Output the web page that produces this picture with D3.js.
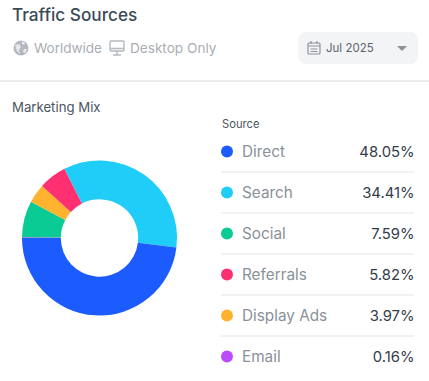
<!DOCTYPE html>
<html lang="en">
<head>
<meta charset="UTF-8">
<title>Traffic Sources</title>
<script src="https://d3js.org/d3.v7.min.js"></script>
<style>
  html, body { margin: 0; padding: 0; background: #fff; }
  svg { display: block; }
  text { font-family: Inter, "Noto Sans", sans-serif; }
</style>
</head>
<body>
<div class="canvas"></div>
<script>
  const sources = ['Direct', 'Search', 'Social', 'Referrals', 'Display Ads', 'Email']
  const shares = [48.05, 34.41, 7.59, 5.82, 3.97, 0.16]
  const colors = ['#1c5cff', '#1fcdf8', '#0acb94', '#ff3071', '#ffb22e', '#b94dfa']
  // clockwise from 9 o'clock, the way the donut is laid out
  const sliceOrder = ['Email', 'Social', 'Display Ads', 'Referrals', 'Search', 'Direct']

  const width = 429
  const height = 381

  const svg = d3.select('.canvas')
    .append('svg')
    .attr('width', width)
    .attr('height', height)

  const label = (x, y, str, size, fill, anchor = 'start', weight = 400) => svg.append('text')
    .attr('x', x)
    .attr('y', y)
    .attr('font-size', size)
    .attr('font-weight', weight)
    .attr('fill', fill)
    .attr('text-anchor', anchor)
    .text(str)

  // header
  label(12, 21, 'Traffic Sources', 17.2, '#3b4a57', 'start', 500)

  const globe = svg.append('g').attr('transform', 'translate(21, 48)')
  globe.append('circle').attr('r', 7.5).attr('fill', '#b4b9bf')
  globe.append('path').attr('d', 'M-6 -3 L-2 -4 L0 -1 L-2 2 L-1 6 L-4 3 Z M1 -7 L4 -5 L3 -3 L1 -4 Z M3 1 L6 1 L4 5 L2 4 Z').attr('fill', '#e6e8ea')
  label(34, 53, 'Worldwide', 13.5, '#a9aeb4')

  const monitor = svg.append('g').attr('transform', 'translate(117, 47)')
  monitor.append('rect').attr('x', -7).attr('y', -6).attr('width', 14).attr('height', 10).attr('rx', 1)
    .attr('fill', 'none').attr('stroke', '#b4b9bf').attr('stroke-width', 1.4)
  monitor.append('path').attr('d', 'M-7 1.5 H7 M0 4 V8 M-4 8 H4').attr('stroke', '#b4b9bf').attr('stroke-width', 1.4)
  label(130, 53, 'Desktop Only', 13.6, '#a9aeb4')

  // date picker
  svg.append('rect').attr('x', 298).attr('y', 32).attr('width', 120).attr('height', 32).attr('rx', 8).attr('fill', '#f2f4f6')
  const cal = svg.append('g').attr('transform', 'translate(314, 48)')
  cal.append('rect').attr('x', -6).attr('y', -5).attr('width', 12).attr('height', 11).attr('rx', 1)
    .attr('fill', 'none').attr('stroke', '#8d949b').attr('stroke-width', 1.2)
  cal.append('path').attr('d', 'M-6 -2 H6 M-3 -7 V-4 M3 -7 V-4 M-3.5 1 H3.5 M-3.5 3.5 H3.5').attr('stroke', '#8d949b').attr('stroke-width', 1.2)
  label(326, 52, 'Jul 2025', 11.5, '#5d6670')
  svg.append('path').attr('d', 'M397 46 H407 L402 51 Z').attr('fill', '#8b9299')

  svg.append('line').attr('x1', 0).attr('x2', width).attr('y1', 81).attr('y2', 81).attr('stroke', '#e4e6e8').attr('stroke-width', 1.5)

  label(12, 112, 'Marketing Mix', 13.2, '#4a5560')
  label(222, 128, 'Source', 11.2, '#4a5560')

  // donut
  const share = d3.scaleOrdinal().domain(sources).range(shares)
  const color = d3.scaleOrdinal().domain(sources).range(colors)

  const pie = d3.pie()
    .sort(null)
    .value(d => share(d))
    .startAngle(-Math.PI / 2)
    .endAngle(Math.PI * 1.5)

  const arc = d3.arc().innerRadius(38.7).outerRadius(77.5)

  svg.append('g')
    .attr('transform', 'translate(99.5, 238)')
    .selectAll('path')
    .data(pie(sliceOrder))
    .join('path')
    .attr('d', arc)
    .attr('fill', d => color(d.data))

  // legend table
  const row = d3.scalePoint().domain(sources).range([151.5, 356.5])

  const rows = svg.append('g')
    .selectAll('g')
    .data(sources)
    .join('g')
    .attr('transform', d => `translate(0, ${row(d)})`)

  rows.append('circle')
    .attr('cx', 227)
    .attr('r', 6)
    .attr('fill', d => color(d))

  rows.append('text')
    .attr('x', 242)
    .attr('y', 5.5)
    .attr('font-size', 15.3)
    .attr('fill', '#8a9199')
    .text(d => d)

  rows.append('text')
    .attr('x', 414.5)
    .attr('y', 5.5)
    .attr('font-size', 14.8)
    .attr('fill', '#333d49')
    .attr('text-anchor', 'end')
    .text(d => d3.format('.2f')(share(d)) + '%')

  rows.filter((d, i) => i < sources.length - 1)
    .append('line')
    .attr('x1', 221)
    .attr('x2', 414)
    .attr('y1', 20.5)
    .attr('y2', 20.5)
    .attr('stroke', '#e2e4e7')
</script>
</body>
</html>
